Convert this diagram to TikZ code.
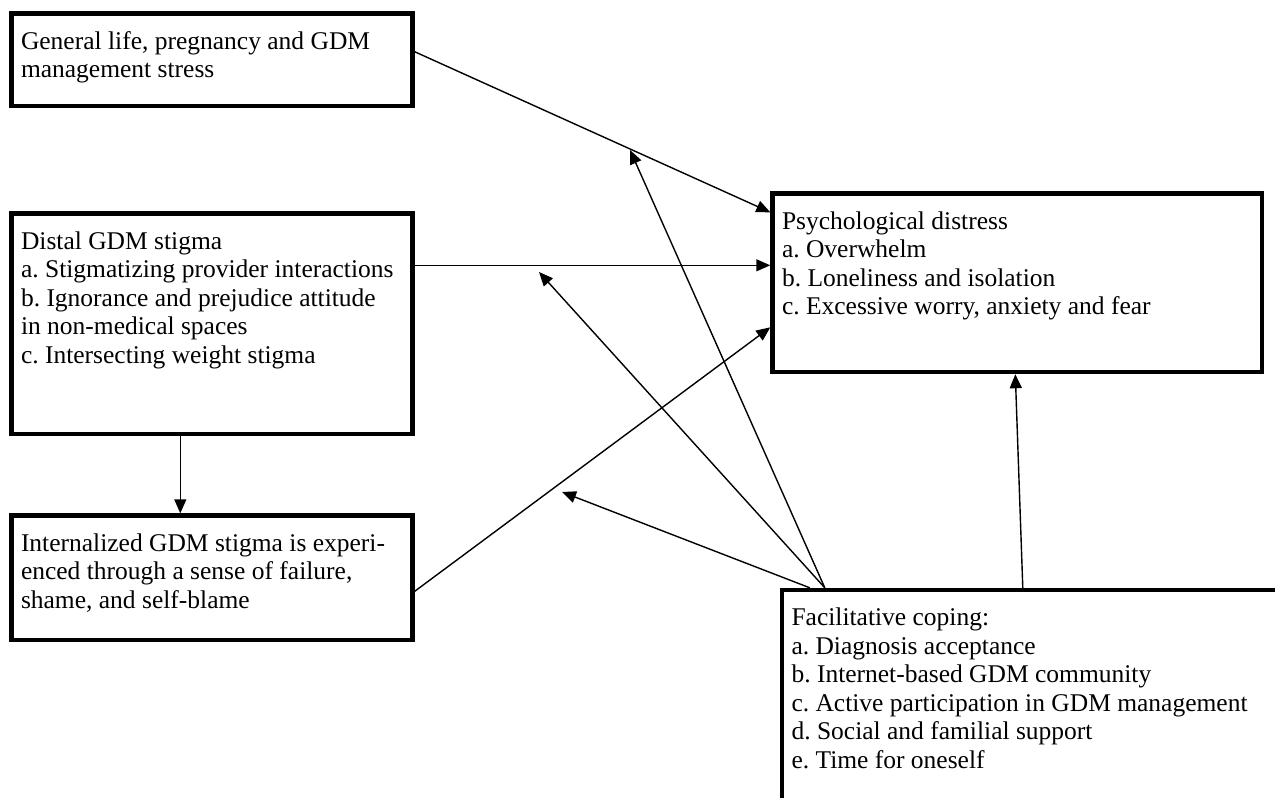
\documentclass[tikz,border=0pt]{standalone}
\usepackage{fontspec}
\setmainfont{Liberation Serif}
\usetikzlibrary{positioning}
\usetikzlibrary{calc}
\usetikzlibrary{arrows.meta}
\frenchspacing
\newcommand{\boxtext}[3]{\parbox[t][#2][t]{#1}{\strut#3}}
\tikzset{x=0.5pt, y=-0.5pt, % one unit is one pixel of the page
    box/.style={ % Sets the properties for each theme box
    draw,
    line width=2.2pt,
    anchor=north west,
    inner xsep=4.75pt,
    inner ysep=8pt,
    font=\fontsize{12.75}{14.25}\selectfont},
    link/.style={ % Sets the properties for each arrow
    -{Triangle[length=7pt,width=6pt]},
    line width=0.7pt}}

\begin{document}
\begin{tikzpicture}
        % Page frame
        \useasboundingbox (0,0) rectangle (1275,798);
        \clip (0,0) rectangle (1275,798);

        % Left column of boxes
        \node[box] (stress) at (9.3,11.3)
            {\boxtext{191pt}{30.25pt}{General life, pregnancy and GDM\\management stress}};
        \node[box] (distal) at (9.3,211.3)
            {\boxtext{191pt}{94.25pt}{Distal GDM stigma\\a. Stigmatizing provider interactions\\b. Ignorance and prejudice attitude\\in non-medical spaces\\c. Intersecting weight stigma}};
        \node[box] (intern) at (9.3,513.3)
            {\boxtext{191pt}{46.25pt}{Internalized GDM stigma is experi-\\enced through a sense of failure,\\shame, and self-blame}};

        % Right column of boxes
        \node[box] (psych) at (770.3,191.3)
            {\boxtext{235.25pt}{73.25pt}{Psychological distress\\a. Overwhelm\\b. Loneliness and isolation\\c. Excessive worry, anxiety and fear}};
        \node[box] (facil) at (779.8,587.8)
            {\boxtext{244.5pt}{100pt}{Facilitative coping:\\a. Diagnosis acceptance\\b. Internet-based GDM community\\c. Active participation in GDM management\\d. Social and familial support\\e. Time for oneself}};

        % Points where coping meets the other paths
        \coordinate (onStress) at (630,150);
        \coordinate (onDistal) at (539,272);
        \coordinate (onIntern) at (562,492);

        % Paths into distress
        \draw[link] ($(stress.east)+(0,-8)$) -- ($(psych.north west)+(0,21)$);
        \draw[link] ($(distal.north east)+(0,54)$) coordinate (dFrom) -- (dFrom -| psych.west);
        \draw[link] ($(intern.north east)+(0,78)$) -- ($(psych.north west)+(0,136)$);
        \draw[link] ($(distal.south west)+(171,0)$) coordinate (dDown) -- (dDown |- intern.north);

        % Coping arrows
        \draw[link] ($(facil.north west)+(45,0)$) -- (onStress);
        \draw[link] ($(facil.north west)+(45,0)$) -- (onDistal);
        \draw[link] ($(facil.north west)+(30,0)$) -- (onIntern);
        \draw[link] ($(facil.north west)+(243,0)$) -- ($(psych.south west)+(245,0)$);

\end{tikzpicture}
\end{document}
